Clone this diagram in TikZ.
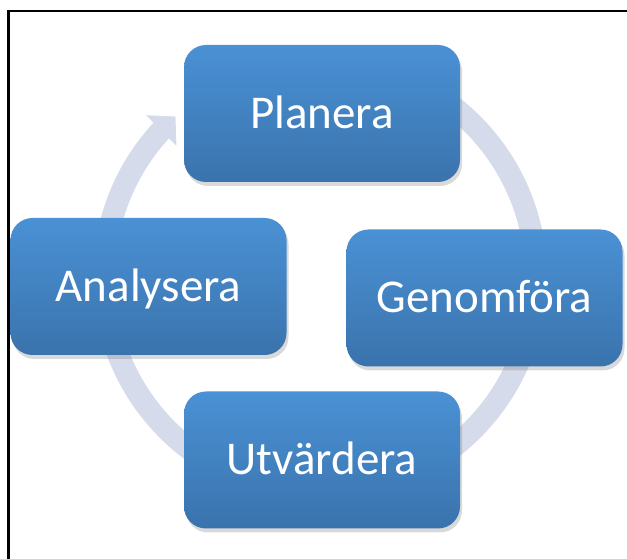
\documentclass[tikz,border=0pt]{standalone}
\usepackage{fontspec}
\setmainfont{Carlito}
\usetikzlibrary{arrows.meta,bending,shadows}

\definecolor{boxtop}{RGB}{74,145,213}
\definecolor{boxbot}{RGB}{58,115,172}
\definecolor{ringcol}{RGB}{214,219,235}

\begin{document}
\begin{tikzpicture}[x=1pt,y=1pt,
	stage/.style={rounded corners=22pt,minimum width=276pt,minimum height=137pt,
		top color=boxtop,bottom color=boxbot,text=white,
		font=\fontsize{47}{56}\selectfont,text height=30pt,text depth=0pt,
		drop shadow={shadow xshift=2pt,shadow yshift=-4pt,opacity=0.3}},
	ring/.style={line width=22pt,color=ringcol,
		-{Triangle[length=20pt,width=42pt,flex]}}]

\useasboundingbox (0,0) rectangle (627,559);
\draw[line width=2.2pt] (8.5,0) -- (8.5,548) -- (627,548);

\coordinate (mid) at (320,282);
\draw[ring] ([shift={(80:216)}]mid) arc[start angle=80,end angle=-228,radius=216];

\node[stage]   (planera)   at (322,445.5)     {Planera};
\node[stage]   (genomfora) at (484.5,261)     {Genomföra};
\node[stage]   (utvardera) at (322,99)        {Utvärdera};
\node[stage]   (analysera) at (148.5,272.5)   {Analysera};

\end{tikzpicture}
\end{document}
